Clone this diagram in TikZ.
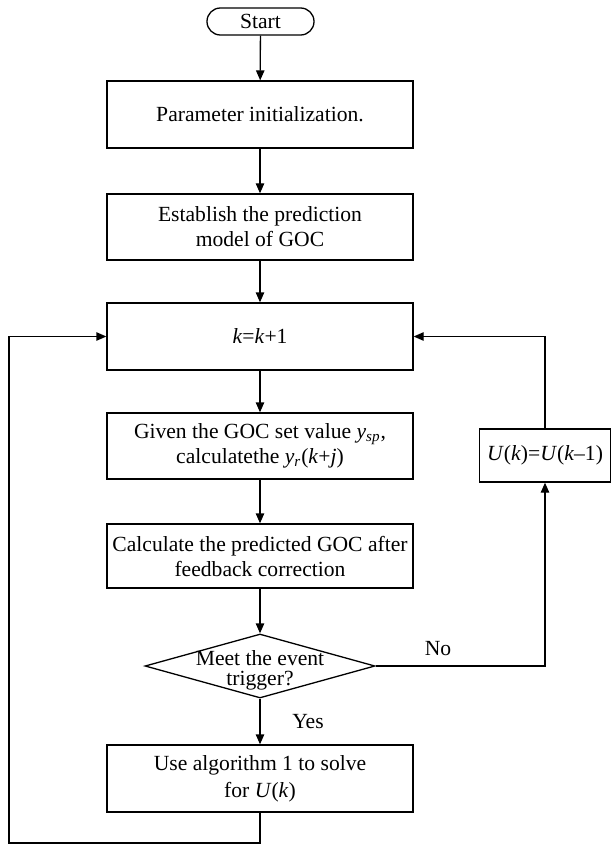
\documentclass[tikz,border=0pt]{standalone}
\usepackage{fontspec}
\setmainfont{Liberation Serif}
\usetikzlibrary{arrows.meta,shapes.geometric}
\begin{document}
\begin{tikzpicture}[x=0.5pt,y=-0.5pt,
  line width=0.65pt,
  every node/.style={font=\fontsize{10.8}{12.5}\selectfont},
  box/.style={draw,rectangle,inner sep=0pt,minimum width=153pt,minimum height=33.5pt,align=center},
  startbox/.style={draw,rectangle,rounded corners=6.7pt,inner sep=0pt,minimum width=53.5pt,minimum height=13.5pt},
  decision/.style={draw,diamond,inner sep=0pt,minimum width=115pt,minimum height=32pt},
  arr/.style={-{Triangle[length=5pt,width=4.2pt]}},
  lab/.style={inner sep=0pt}
]
\path[use as bounding box] (0,0) rectangle (610,845);
\node[startbox] (start) at (260.5,21.5) {Start};
\node[box] (b1) at (260,114.5) {Parameter initialization.};
\node[box,minimum height=33pt] (b2) at (260,227) {Establish the prediction\\model of GOC};
\node[box] (b3) at (260,336.5) {\textit{k}=\textit{k}+1};
\node[box,minimum height=33pt] (b4) at (260,446) {Given the GOC set value \textit{y}\textsubscript{\textit{sp}},\\calculatethe \textit{y}\textsubscript{\textit{r}}(\textit{k}+\textit{j})};
\node[box,minimum height=32pt] (b5) at (260,556) {Calculate the predicted GOC after\\feedback correction};
\node[decision] (d) at (260,666) {};
\node[lab,align=center,font=\fontsize{10.8}{10}\selectfont] (dt) at (260,670) {Meet the event\\trigger?};
\node[box,font=\fontsize{10.8}{13.5}\selectfont] (b6) at (260,778.5) {Use algorithm 1 to solve\\for \textit{U}(\textit{k})};
\node[box,minimum width=65.5pt,minimum height=26.5pt] (u) at (545,455.5) {\textit{U}(\textit{k})=\textit{U}(\textit{k}–1)};
\node[lab] (yes) at (308,722) {Yes};
\node[lab] (no) at (438,649) {No};
\coordinate (bl) at (9,843);

\draw[arr] (start) -- (b1);
\draw[arr] (b1) -- (b2);
\draw[arr] (b2) -- (b3);
\draw[arr] (b3) -- (b4);
\draw[arr] (b4) -- (b5);
\draw[arr] (b5) -- (d);
\draw[arr] (d) -- (b6);
\draw[arr] (d.east) -| (u.south);
\draw[arr] (u.north) |- (b3.east);
\draw[arr] (b6.south) |- (bl) |- (b3.west);
\end{tikzpicture}
\end{document}
